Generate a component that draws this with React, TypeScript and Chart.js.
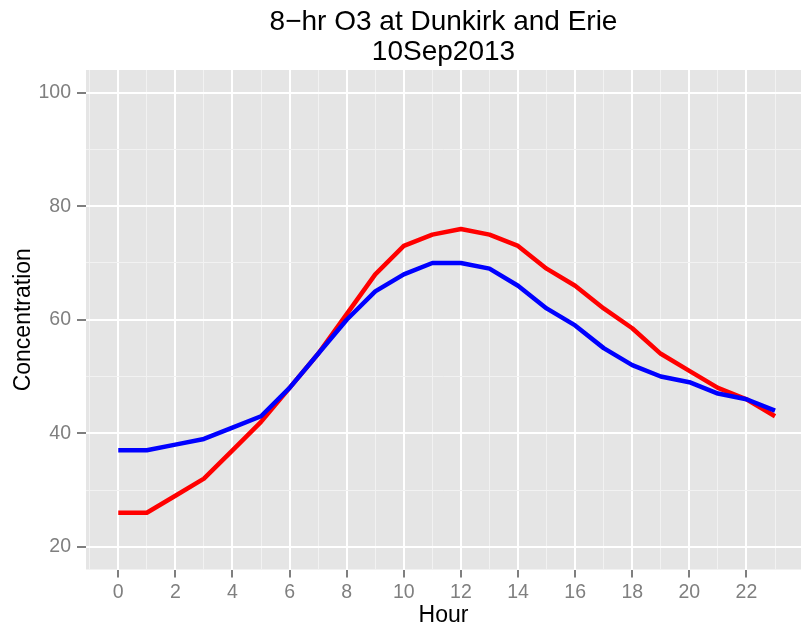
import React, { useEffect, useRef } from "react";
import { Chart, registerables } from "chart.js";

Chart.register(...registerables);

const hours = [0, 1, 2, 3, 4, 5, 6, 7, 8, 9, 10, 11, 12, 13, 14, 15, 16, 17, 18, 19, 20, 21, 22, 23];
const dunkirk = [26, 26, 29, 32, 37, 42, 48, 54, 61, 68, 73, 75, 76, 75, 73, 69, 66, 62, 58.5, 54, 51, 48, 46, 43];
const erie = [37, 37, 38, 39, 41, 43, 48, 54, 60, 65, 68, 70, 70, 69, 66, 62, 59, 55, 52, 50, 49, 47, 46, 44];

const xMajorTicks = [0, 2, 4, 6, 8, 10, 12, 14, 16, 18, 20, 22];
const xMinorTicks = [-1, 1, 3, 5, 7, 9, 11, 13, 15, 17, 19, 21, 23];
const yMajorTicks = [20, 40, 60, 80, 100];
const yMinorTicks = [30, 50, 70, 90];

const titleLines = ["8\u2212hr O3 at Dunkirk and Erie", "10Sep2013"];
const xTitle = "Hour";
const yTitle = "Concentration";

const FONT = "'Liberation Sans', Arial, Helvetica, sans-serif";
const GREY50 = "#7f7f7f";

const panelBg = {
  id: "panelBg",
  beforeDraw(chart: any) {
    const { ctx, chartArea } = chart;
    ctx.save();
    ctx.fillStyle = "#e5e5e5";
    ctx.fillRect(chartArea.left, chartArea.top, chartArea.right - chartArea.left, chartArea.bottom - chartArea.top);
    ctx.restore();
  },
};

function gridOpts(majors: number[], tickLength: number) {
  const isMajor = (ctx: any) => ctx.tick && majors.includes(ctx.tick.value);
  return {
    color: (ctx: any) => (isMajor(ctx) ? "#ffffff" : "#f2f2f2"),
    lineWidth: (ctx: any) => (isMajor(ctx) ? 2 : 1),
    tickColor: (ctx: any) => (isMajor(ctx) ? GREY50 : "rgba(0,0,0,0)"),
    tickWidth: 2,
    tickLength,
    drawTicks: true,
    drawOnChartArea: true,
  };
}

export default function App() {
  const ref = useRef<HTMLCanvasElement | null>(null);

  useEffect(() => {
    if (!ref.current) return;
    const chart = new Chart(ref.current, {
      type: "line",
      data: {
        datasets: [
          {
            label: "Dunkirk",
            data: hours.map((h, i) => ({ x: h, y: dunkirk[i] })),
            borderColor: "#ff0000",
            backgroundColor: "#ff0000",
            borderWidth: 4.5,
            pointRadius: 0,
            tension: 0,
            borderJoinStyle: "round",
            borderCapStyle: "butt",
            order: 1,
          },
          {
            label: "Erie",
            data: hours.map((h, i) => ({ x: h, y: erie[i] })),
            borderColor: "#0000ff",
            backgroundColor: "#0000ff",
            borderWidth: 4.5,
            pointRadius: 0,
            tension: 0,
            borderJoinStyle: "round",
            borderCapStyle: "butt",
            order: 0,
          },
        ],
      },
      options: {
        responsive: false,
        animation: false,
        layout: { padding: { left: 0, right: 0, top: 0, bottom: 0 } },
        plugins: {
          legend: { display: false },
          tooltip: { enabled: false },
          title: {
            display: true,
            text: titleLines,
            fullSize: false,
            color: "#000000",
            font: { family: FONT, size: 28, weight: "normal", lineHeight: 1.05 },
            padding: { top: 8, bottom: 3.2 },
          },
        },
        scales: {
          x: {
            type: "linear",
            min: -1.13,
            max: 23.91,
            afterBuildTicks: (scale: any) => {
              scale.ticks = [...xMinorTicks, ...xMajorTicks].sort((a, b) => a - b).map((v) => ({ value: v }));
            },
            afterFit: (scale: any) => {
              scale.height = 60.5;
            },
            ticks: {
              autoSkip: false,
              maxRotation: 0,
              minRotation: 0,
              color: GREY50,
              padding: 3,
              font: { family: FONT, size: 19.5 },
              callback: (v: any) => (xMajorTicks.includes(Number(v)) ? String(v) : ""),
            },
            grid: gridOpts(xMajorTicks, 8),
            border: { display: false },
            title: {
              display: true,
              text: xTitle,
              color: "#000000",
              font: { family: FONT, size: 23 },
              padding: { top: 0, bottom: 1 },
            },
          },
          y: {
            type: "linear",
            min: 16,
            max: 104,
            afterBuildTicks: (scale: any) => {
              scale.ticks = [...yMinorTicks, ...yMajorTicks].sort((a, b) => a - b).map((v) => ({ value: v }));
            },
            afterFit: (scale: any) => {
              scale.width = 86;
            },
            ticks: {
              autoSkip: false,
              color: GREY50,
              padding: 6,
              font: { family: FONT, size: 19.5 },
              callback: (v: any) => (yMajorTicks.includes(Number(v)) ? String(v) : ""),
            },
            grid: gridOpts(yMajorTicks, 9),
            border: { display: false },
            title: {
              display: true,
              text: yTitle,
              color: "#000000",
              font: { family: FONT, size: 23 },
              padding: { top: 10, bottom: 0 },
            },
          },
        },
      },
      plugins: [panelBg],
    } as any);
    return () => chart.destroy();
  }, []);

  return (
    <div style={{ position: "fixed", left: 0, top: 0, width: 801, height: 630, background: "#ffffff" }}>
      <canvas ref={ref} width={801} height={630} style={{ display: "block", width: 801, height: 630 }} />
    </div>
  );
}
